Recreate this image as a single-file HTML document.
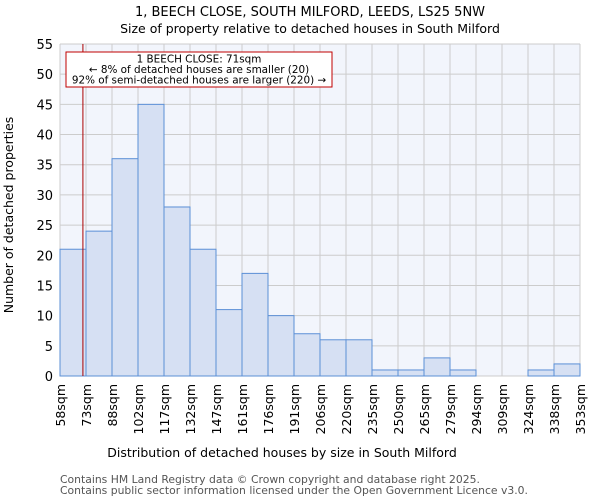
<!DOCTYPE html>
<html><head><meta charset="utf-8"><style>
body{margin:0;background:#fff;font-family:"DejaVu Sans","Liberation Sans",sans-serif}
svg text{font-family:"DejaVu Sans","Liberation Sans",sans-serif}
</style></head><body>
<svg id="c" width="600" height="500" xmlns="http://www.w3.org/2000/svg">
<text x="310" y="16" text-anchor="middle" font-size="13">1, BEECH CLOSE, SOUTH MILFORD, LEEDS, LS25 5NW</text>
<text x="310" y="33" text-anchor="middle" font-size="12.5">Size of property relative to detached houses in South Milford</text>
<rect x="60" y="44" width="520" height="332" fill="#f2f5fc"/>
<g id="grid"></g><g id="bars"></g><g id="axes"></g>
<text x="282" y="457" text-anchor="middle" font-size="12.5">Distribution of detached houses by size in South Milford</text>
<text transform="translate(13,215) rotate(-90)" text-anchor="middle" font-size="12.5">Number of detached properties</text>
<text x="60" y="483" font-size="10.8" fill="#555">Contains HM Land Registry data © Crown copyright and database right 2025.</text>
<text x="60" y="494" font-size="10.8" fill="#555">Contains public sector information licensed under the Open Government Licence v3.0.</text>
</svg>
<script>
const binLabels=["58sqm","73sqm","88sqm","102sqm","117sqm","132sqm","147sqm","161sqm","176sqm","191sqm","206sqm","220sqm","235sqm","250sqm","265sqm","279sqm","294sqm","309sqm","324sqm","338sqm","353sqm"];
const counts=[21,24,36,45,28,21,11,17,10,7,6,6,1,1,3,1,0,0,1,2];
const yTicks=[0,5,10,15,20,25,30,35,40,45,50,55];
const propertySize=71;
const binStart=58, binWidth=14.75;
const NS="http://www.w3.org/2000/svg";
const X0=60,X1=580,Y0=376,Y1=44,YMAX=55;
const bw=(X1-X0)/counts.length;
const xi=i=>X0+i*bw;
const y=v=>Y0-(v/YMAX)*(Y0-Y1);
const xv=v=>X0+(v-binStart)/binWidth*bw;
function mk(t,a,p){const e=document.createElementNS(NS,t);for(const k in a)e.setAttribute(k,a[k]);p.appendChild(e);return e;}
const g=document.getElementById('grid'),b=document.getElementById('bars'),ax=document.getElementById('axes');
yTicks.forEach(t=>{
 const l=mk('line',{x1:X0,x2:X1,y1:y(t),y2:y(t),stroke:'#cccccc','stroke-width':1},g);
 
 
 const tx=mk('text',{x:X0-7,y:y(t)+5,'text-anchor':'end','font-size':13},ax);tx.textContent=t;
 
 
});
binLabels.forEach((s,i)=>{
 const l=mk('line',{x1:xi(i),x2:xi(i),y1:Y1,y2:Y0,stroke:'#cccccc','stroke-width':1},g);
 
 
 const tx=mk('text',{transform:`translate(${xi(i)+5},${Y0+8}) rotate(-90)`,'text-anchor':'end','font-size':12.5},ax);tx.textContent=s;
 
 
});
counts.forEach((v,i)=>{
 if(v<=0)return;
 const r=mk('rect',{x:xi(i),y:y(v),width:bw,height:Y0-y(v),fill:'#d6e0f3',stroke:'#5b8fd6','stroke-width':1},b);
 
 
});
const rl=mk('line',{x1:xv(propertySize),x2:xv(propertySize),y1:Y1,y2:Y0,stroke:'#aa0000','stroke-width':1},ax);


const box=mk('rect',{x:66,y:52,width:266,height:35,fill:'#fff',stroke:'#c00000','stroke-width':1},ax);


["1 BEECH CLOSE: 71sqm","← 8% of detached houses are smaller (20)","92% of semi-detached houses are larger (220) →"].forEach((s,i)=>{
 const t=mk('text',{x:199,y:62.5+i*10.5,'text-anchor':'middle','font-size':10.4},ax);t.textContent=s;
 
 
});
</script>
</body></html>
